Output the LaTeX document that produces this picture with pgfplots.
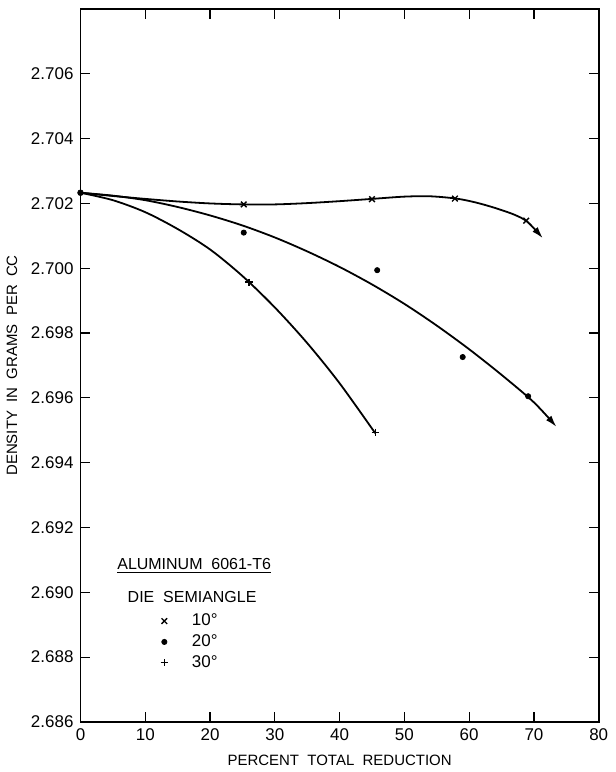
\documentclass[border=0pt]{standalone}
\usepackage{fontspec}
\setmainfont{Liberation Sans}
\usepackage{pgfplots}
\pgfplotsset{compat=1.18}
\usetikzlibrary{arrows.meta}
\begin{document}
\begin{tikzpicture}
\begin{axis}[
  scale only axis, width=259.5pt, height=357pt,
  xmin=0, xmax=80, ymin=2.686, ymax=2.708,
  xtick={0,10,20,30,40,50,60,70,80},
  ytick={2.686,2.688,2.690,2.692,2.694,2.696,2.698,2.700,2.702,2.704,2.706},
  scaled y ticks=false,
  yticklabel style={/pgf/number format/.cd, fixed, fixed zerofill, precision=3},
  /pgf/number format/assume math mode=true,
  tick align=inside, major tick length=5pt,
  tick label style={font=\fontsize{8.5}{10}\selectfont},
  label style={font=\fontsize{7.5}{9}\selectfont},
  xlabel={PERCENT\ \ TOTAL\ \ REDUCTION},
  ylabel={DENSITY\ \ IN\ \ GRAMS\ \ PER\ \ CC},
  axis line style={line width=0.8pt},
  every tick/.style={black, line width=0.6pt},
  clip=false,
  legend style={at={(axis cs:11.4,2.6896)}, anchor=north west, draw=none, fill=none,
    font=\fontsize{8.5}{9}\selectfont, row sep=-1pt,
    /tikz/every odd column/.append style={column sep=10pt}},
  legend cell align=left,
]
% 10 deg curve
\addplot[forget plot, smooth, line width=0.9pt, -{Latex[length=6pt,width=3.5pt]}] coordinates {
(0,2.70233) (5,2.70223) (10,2.70214) (15,2.70206) (20,2.70200) (25,2.70197) (30,2.70197)
(35,2.70201) (40,2.70207) (45,2.70214) (50,2.70221) (54,2.70222) (58,2.70215) (61,2.70203)
(64,2.70186) (67,2.70165) (69,2.70143) (71.4,2.70092)};
% 20 deg curve
\addplot[forget plot, smooth, line width=0.9pt, -{Latex[length=6pt,width=3.5pt]}] coordinates {
(0,2.70233) (5,2.70224) (10,2.70210) (15,2.70189) (20,2.70163) (25,2.70132) (30,2.70095)
(35,2.70052) (40,2.70004) (45,2.69950) (50,2.69890) (55,2.69823) (60,2.69750) (65,2.69671)
(70,2.69586) (73.5,2.69510)};
% 30 deg curve
\addplot[forget plot, smooth, line width=0.9pt] coordinates {
(0,2.70233) (5,2.70210) (10,2.70173) (15,2.70121) (20,2.70058) (25,2.69976) (30,2.69879)
(35,2.69769) (40,2.69645) (45.5,2.69491)};
\addplot[only marks, mark=x, mark size=2pt, line width=0.7pt] coordinates {
(25.2,2.70197) (45.0,2.70213) (57.8,2.70215) (68.8,2.70147)};
\addlegendentry{10°}
\addplot[only marks, mark=*, mark size=1.3pt] coordinates {
(25.2,2.70110) (45.8,2.69994) (59.0,2.69726) (69.1,2.69605)};
\addlegendentry{20°}
\addplot[only marks, mark=+, mark size=1.8pt, line width=0.7pt] coordinates {
(26.0,2.69957) (45.5,2.69494)};
\addlegendentry{30°}
\addplot[forget plot, only marks, mark=*, mark size=1.4pt] coordinates {(0,2.70233)};
\node[anchor=west, font=\fontsize{8}{9}\selectfont] at (axis cs:4.6,2.6908) {\underline{ALUMINUM\ \ 6061-T6}};
\node[anchor=west, font=\fontsize{8}{9}\selectfont] at (axis cs:6.2,2.68985) {DIE\ \ SEMIANGLE};
\end{axis}
\path ([xshift=-39pt,yshift=-24.5pt]current axis.south west) rectangle ([xshift=8.5pt,yshift=4.5pt]current axis.north east);
\end{tikzpicture}
\end{document}
